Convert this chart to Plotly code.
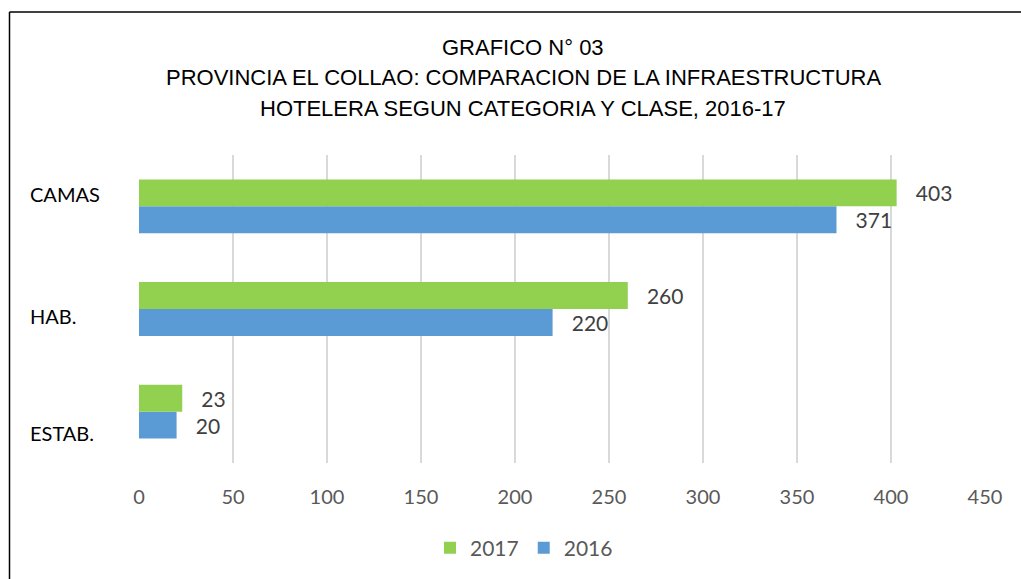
import plotly.graph_objects as go

# Hotel infrastructure, El Collao province
categories = ["ESTAB.", "HAB.", "CAMAS"]
values_2017 = [23, 260, 403]
values_2016 = [20, 220, 371]
x_ticks = [0, 50, 100, 150, 200, 250, 300, 350, 400, 450]

title_lines = [
    "GRAFICO N° 03",
    "PROVINCIA EL COLLAO: COMPARACION DE LA INFRAESTRUCTURA",
    "HOTELERA SEGUN CATEGORIA Y CLASE, 2016-17",
]

GREEN = "#92D050"
BLUE = "#5B9BD5"
LABEL_FONT = dict(family="Lato, Open Sans, sans-serif", size=21, color="#404040")

fig = go.Figure()
fig.add_trace(go.Bar(
    y=categories, x=values_2016, name="2016", orientation="h",
    marker=dict(color=BLUE, line=dict(width=0)),
    text=values_2016, texttemplate="   %{x}", textposition="outside",
    textfont=LABEL_FONT, cliponaxis=False,
))
fig.add_trace(go.Bar(
    y=categories, x=values_2017, name="2017", orientation="h",
    marker=dict(color=GREEN, line=dict(width=0)),
    text=values_2017, texttemplate="   %{x}", textposition="outside",
    textfont=LABEL_FONT, cliponaxis=False,
))

# category labels, left-aligned beside the plot area
label_shift = {"CAMAS": 12, "HAB.": -7, "ESTAB.": -21}
for cat in categories:
    fig.add_annotation(
        x=0, xref="paper", xanchor="left", xshift=-111,
        y=cat, yref="y", yshift=label_shift[cat],
        text=cat, showarrow=False,
        font=dict(family="Lato, Open Sans, sans-serif", size=20, color="#000000"),
    )

# three-line heading, one annotation per line
for i, line in enumerate(title_lines):
    fig.add_annotation(
        x=523 / 1021, xref="paper", xanchor="center",
        y=(463 - (47 + 30.5 * i)) / 308, yref="paper", yanchor="middle",
        text=line, showarrow=False,
        font=dict(family="Liberation Sans, Arial, sans-serif", size=22, color="#000000"),
    )
    # x in paper units of the plot area
    fig.layout.annotations[-1].x = (523 - 139) / 846

fig.update_layout(
    width=1021, height=579,
    margin=dict(l=139, r=36, t=155, b=116),
    paper_bgcolor="white", plot_bgcolor="white",
    barmode="group", bargap=0.475, bargroupgap=0,
    xaxis=dict(
        range=[0, 450], tickvals=x_ticks, showgrid=True,
        gridcolor="#D9D9D9", gridwidth=2, zeroline=False,
        showline=False, ticks="", ticklabelstandoff=20,
        tickfont=dict(family="Lato, Open Sans, sans-serif", size=20, color="#595959"),
    ),
    yaxis=dict(
        showticklabels=False, showgrid=False, zeroline=False,
        categoryorder="array", categoryarray=categories,
    ),
    showlegend=True,
    legend=dict(
        orientation="h", xref="container", x=524 / 1021, xanchor="center",
        yref="container", y=1 - 548 / 579, yanchor="middle",
        traceorder="reversed",
        font=dict(family="Lato, Open Sans, sans-serif", size=21, color="#595959"),
        itemwidth=30,
    ),
    shapes=[
        dict(type="line", xref="paper", yref="paper",
             x0=(9.5 - 139) / 846, x1=(1030 - 139) / 846,
             y0=(463 - 12) / 308, y1=(463 - 12) / 308,
             line=dict(color="black", width=1.5)),
        dict(type="line", xref="paper", yref="paper",
             x0=(9.5 - 139) / 846, x1=(9.5 - 139) / 846,
             y0=(463 - 12) / 308, y1=(463 - 600) / 308,
             line=dict(color="black", width=1.5)),
    ],
)

fig.write_html("out.html")
